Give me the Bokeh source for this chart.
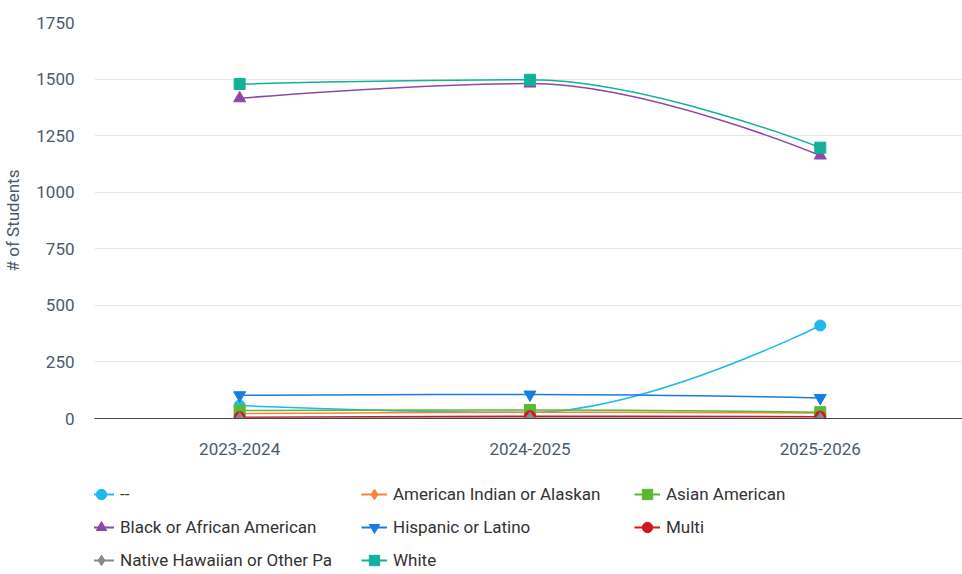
from bokeh.plotting import figure
from bokeh.models import Range1d, FixedTicker, Legend, LegendItem, ColumnDataSource
from bokeh.layouts import column
from bokeh.embed import file_html
from bokeh.resources import INLINE

years = ["2023-2024", "2024-2025", "2025-2026"]
series_names = ["--", "American Indian or Alaskan", "Asian American",
                "Black or African American", "Hispanic or Latino", "Multi",
                "Native Hawaiian or Other Pa", "White"]
blank = [57, 27, 411]
american_indian = [22, 28, 24]
asian = [35, 38, 28]
black = [1415, 1480, 1162]
hispanic = [103, 106, 91]
multi = [5, 10, 8]
native_hawaiian = [1, 2, 1]
white = [1478, 1497, 1197]
y_ticks = [0, 250, 500, 750, 1000, 1250, 1500, 1750]

values = [blank, american_indian, asian, black, hispanic, multi, native_hawaiian, white]
colors = ["#1cb9ef", "#f7833a", "#5ab833", "#8b4aa8", "#1a7be0", "#d0171c", "#858b91", "#13b09b"]
markers = ["circle", "diamond", "square", "triangle", "inverted_triangle", "circle", "diamond", "square"]
msizes = [11, 12, 11, 12, 12, 11, 12, 11]

FONT = "Roboto"
TXT = "#4a5b6b"
W = 962

p = figure(width=W, height=463, output_backend="svg", toolbar_location=None,
           x_range=Range1d(-0.5, 2.49), y_range=Range1d(0, 1750),
           min_border_left=85, min_border_right=0, min_border_top=22, min_border_bottom=45)
p.outline_line_color = None
p.background_fill_color = "white"

p.xgrid.grid_line_color = None
p.ygrid.grid_line_color = "#e6e6e6"
p.ygrid.grid_line_width = 1

p.yaxis.ticker = FixedTicker(ticks=y_ticks)
p.yaxis.axis_line_color = None
p.yaxis.major_tick_line_color = None
p.yaxis.minor_tick_line_color = None
p.yaxis.major_label_text_font = FONT
p.yaxis.major_label_text_font_size = "17px"
p.yaxis.major_label_text_color = TXT
p.yaxis.major_label_standoff = 14
p.yaxis.axis_label = "# of Students"
p.yaxis.axis_label_text_font = FONT
p.yaxis.axis_label_text_font_style = "normal"
p.yaxis.axis_label_text_font_size = "17px"
p.yaxis.axis_label_text_color = TXT
p.yaxis.axis_label_standoff = 10

p.xaxis.ticker = FixedTicker(ticks=list(range(len(years))))
p.xaxis.major_label_overrides = {i: y for i, y in enumerate(years)}
p.xaxis.axis_line_color = "#444444"
p.xaxis.axis_line_width = 1
p.xaxis.major_tick_line_color = None
p.xaxis.minor_tick_line_color = None
p.xaxis.major_label_text_font = FONT
p.xaxis.major_label_text_font_size = "17px"
p.xaxis.major_label_text_color = TXT
p.xaxis.major_label_standoff = 18


def spline_segments(xs, ys, smoothing=1.5):
    n = len(xs)
    lc = [(xs[i], ys[i]) for i in range(n)]
    rc = [(xs[i], ys[i]) for i in range(n)]
    denom = smoothing + 1
    for i in range(1, n - 1):
        px, py = xs[i], ys[i]
        lx, ly = xs[i - 1], ys[i - 1]
        nx, ny = xs[i + 1], ys[i + 1]
        lcx = (smoothing * px + lx) / denom
        lcy = (smoothing * py + ly) / denom
        rcx = (smoothing * px + nx) / denom
        rcy = (smoothing * py + ny) / denom
        if rcx != lcx:
            corr = ((rcy - lcy) * (rcx - px)) / (rcx - lcx) + py - rcy
            lcy += corr
            rcy += corr
        if lcy > ly and lcy > py:
            lcy = max(ly, py)
            rcy = 2 * py - lcy
        elif lcy < ly and lcy < py:
            lcy = min(ly, py)
            rcy = 2 * py - lcy
        if rcy > ny and rcy > py:
            rcy = max(ny, py)
            lcy = 2 * py - rcy
        elif rcy < ny and rcy < py:
            rcy = min(ny, py)
            lcy = 2 * py - rcy
        lc[i] = (lcx, lcy)
        rc[i] = (rcx, rcy)
    seg = dict(x0=[], y0=[], x1=[], y1=[], cx0=[], cy0=[], cx1=[], cy1=[])
    for i in range(1, n):
        seg["x0"].append(xs[i - 1]); seg["y0"].append(ys[i - 1])
        seg["x1"].append(xs[i]); seg["y1"].append(ys[i])
        seg["cx0"].append(rc[i - 1][0]); seg["cy0"].append(rc[i - 1][1])
        seg["cx1"].append(lc[i][0]); seg["cy1"].append(lc[i][1])
    return seg


xs = list(range(len(years)))
for name, vals, col, mk, ms in zip(series_names, values, colors, markers, msizes):
    seg = spline_segments(xs, vals)
    p.bezier(x0="x0", y0="y0", x1="x1", y1="y1", cx0="cx0", cy0="cy0", cx1="cx1", cy1="cy1",
             source=ColumnDataSource(seg), line_color=col, line_width=1.5)
    p.scatter(x=xs, y=vals, marker=mk, size=ms, fill_color=col, line_color=col, line_width=1)

# Legend figure below the chart (its renderers lie outside its visible range)
lf = figure(width=W, height=111, output_backend="svg", toolbar_location=None,
            x_range=Range1d(0, 1), y_range=Range1d(-3000, -2000),
            min_border_left=0, min_border_right=0, min_border_top=0, min_border_bottom=0)
lf.axis.visible = False
lf.grid.visible = False
lf.outline_line_color = None

leg_items = []
for name, vals, col, mk in zip(series_names, values, colors, markers):
    lr = lf.line(x=xs, y=vals, line_color=col, line_width=2)
    sr = lf.scatter(x=xs, y=vals, marker=mk, fill_color=col, line_color=col)
    leg_items.append(LegendItem(label=name, renderers=[lr, sr]))

legend = Legend(items=leg_items, ncols=3, orientation="horizontal",
                location=(-6, 0), border_line_color=None, background_fill_alpha=0,
                label_text_font=FONT, label_text_font_size="17px", label_text_color="#333333",
                glyph_width=26, glyph_height=28, label_height=28, label_width=236,
                label_standoff=6, spacing=5, padding=0, margin=0)
lf.add_layout(legend, "center")

layout = column(p, lf, spacing=0)
open("out.html", "w").write(file_html(layout, INLINE))
